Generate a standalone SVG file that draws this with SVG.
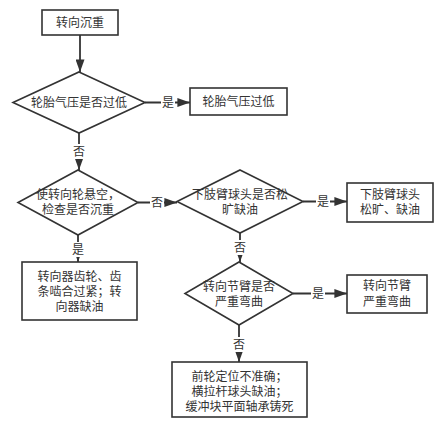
<svg xmlns="http://www.w3.org/2000/svg" width="444" height="421" viewBox="0 0 444 421">
<defs>
<marker id="ah" viewBox="0 0 14 10" refX="14" refY="5" markerWidth="7" markerHeight="5" orient="auto" markerUnits="strokeWidth">
<path d="M0,0 L14,5 L0,10 z" fill="#333"/>
</marker>
<style>
.n{fill:#fff;stroke:#333;stroke-width:1.6}
.t{font-family:"Liberation Sans","Noto Sans CJK SC",sans-serif;font-size:12px;fill:#333;text-anchor:middle;dominant-baseline:central}
.e{fill:none;stroke:#333;stroke-width:1.8;marker-end:url(#ah)}
.lb{fill:#fff}
</style>
</defs>
<rect width="444" height="421" fill="#fff"/>
<g id="connectors">
<path class="e" d="M80,35 V72"/>
<path class="e" d="M145,102.5 H190"/>
<path class="e" d="M79,133 V170"/>
<path class="e" d="M138,202.5 H177"/>
<path class="e" d="M78,235 V262"/>
<path class="e" d="M303,201.5 H347"/>
<path class="e" d="M240,233 V262"/>
<path class="e" d="M293,293.5 H347"/>
<path class="e" d="M239,325 V362"/>
<rect class="lb" x="161" y="95" width="14" height="15"/>
<text class="t" x="168" y="102.5">是</text>
<rect class="lb" x="72" y="144" width="14" height="15"/>
<text class="t" x="79" y="152">否</text>
<rect class="lb" x="150" y="195" width="14" height="15"/>
<text class="t" x="157" y="203">否</text>
<rect class="lb" x="71" y="242" width="14" height="15"/>
<text class="t" x="78" y="250">是</text>
<rect class="lb" x="316" y="194" width="14" height="15"/>
<text class="t" x="323" y="201.5">是</text>
<rect class="lb" x="233" y="240" width="14" height="15"/>
<text class="t" x="240" y="248">否</text>
<rect class="lb" x="311" y="286" width="14" height="15"/>
<text class="t" x="318" y="293.5">是</text>
<rect class="lb" x="232" y="337" width="14" height="15"/>
<text class="t" x="239" y="345">否</text>
</g>
<g id="start">
<rect class="n" x="42" y="10" width="76" height="25"/>
<text class="t" x="80" y="22.5">转向沉重</text>
</g>
<g id="d1">
<polygon class="n" points="79,72 145,102.5 79,133 13,102.5"/>
<text class="t" x="79" y="102.5">轮胎气压是否过低</text>
</g>
<g id="r1">
<rect class="n" x="190" y="88" width="97" height="27"/>
<text class="t" x="238.5" y="101.5">轮胎气压过低</text>
</g>
<g id="d2">
<polygon class="n" points="78,170 138,202.5 78,235 18,202.5"/>
<text class="t" x="78" y="195">使转向轮悬空，</text>
<text class="t" x="78" y="210">检查是否沉重</text>
</g>
<g id="r2">
<rect class="n" x="22" y="262" width="115" height="58"/>
<text class="t" x="79.5" y="277">转向器齿轮、齿</text>
<text class="t" x="79.5" y="292">条啮合过紧；转</text>
<text class="t" x="79.5" y="307">向器缺油</text>
</g>
<g id="d3">
<polygon class="n" points="240,170 303,201.5 240,233 177,201.5"/>
<text class="t" x="240" y="195">下肢臂球头是否松</text>
<text class="t" x="240" y="210">旷缺油</text>
</g>
<g id="r3">
<rect class="n" x="347" y="183" width="86" height="39"/>
<text class="t" x="390" y="195">下肢臂球头</text>
<text class="t" x="390" y="210">松旷、缺油</text>
</g>
<g id="d4">
<polygon class="n" points="239,262 293,293.5 239,325 185,293.5"/>
<text class="t" x="239" y="287">转向节臂是否</text>
<text class="t" x="239" y="302">严重弯曲</text>
</g>
<g id="r4">
<rect class="n" x="347" y="275" width="80" height="38"/>
<text class="t" x="387" y="286">转向节臂</text>
<text class="t" x="387" y="302">严重弯曲</text>
</g>
<g id="r5">
<rect class="n" x="172" y="362" width="135" height="55"/>
<text class="t" x="239.5" y="377">前轮定位不准确；</text>
<text class="t" x="239.5" y="392">横拉杆球头缺油；</text>
<text class="t" x="239.5" y="407">缓冲块平面轴承铸死</text>
</g>
</svg>
